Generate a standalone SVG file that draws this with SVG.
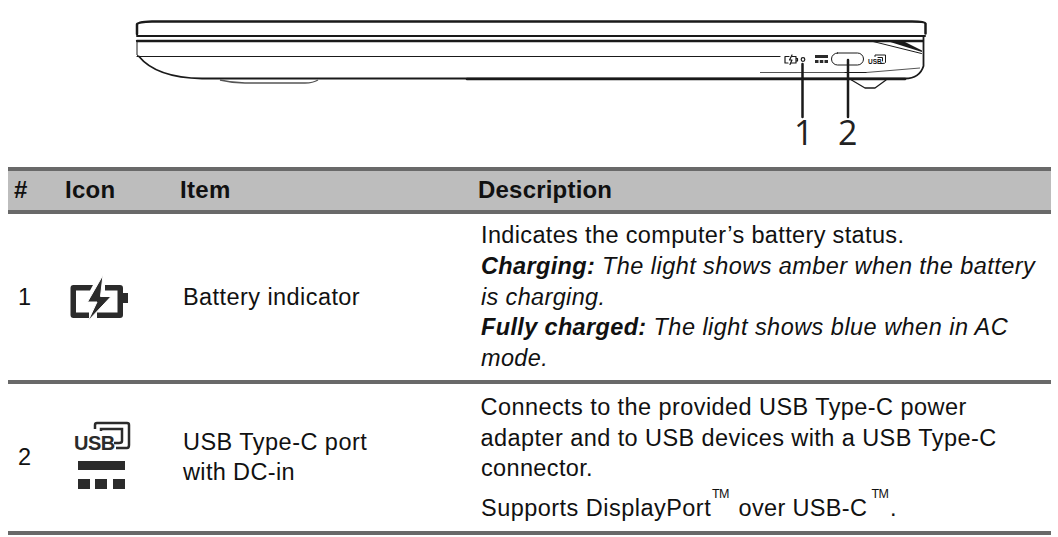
<svg xmlns="http://www.w3.org/2000/svg" width="1058" height="537" viewBox="0 0 1058 537">
<style>
text{font-family:"Liberation Sans",Arial,sans-serif;fill:#111}
.h{font-size:24px;font-weight:bold;letter-spacing:.3px}
.d{letter-spacing:.2px}
.b{font-size:23.5px;letter-spacing:.35px}
.w{letter-spacing:.43px}
.x{letter-spacing:.47px}
.i{font-style:italic}
.bi{font-style:italic;font-weight:bold}
.l{fill:none;stroke:#1a1a1a;stroke-linecap:round;stroke-linejoin:round}
.ic{fill:#2b2b2b}
.icl{fill:none;stroke:#2b2b2b}
.call{font-family:"Open Sans",sans-serif;font-size:34px;fill:#222}
.tm{font-size:12.500px;letter-spacing:-.6px}
</style>
<rect width="1058" height="537" fill="#fff"/>
<g id="laptop">
<path class="l" stroke-width="2.500" d="M152 21.500H912Q925 21.500 925.500 23.500V33.500M137 34V24.500Q137 22 152 21.500"/>
<path class="l" stroke-width="2" d="M137 36H925"/>
<path class="l" stroke-width="2.300" d="M137 41H923"/>
<path class="l" stroke-width="1" d="M137 41V55L139 56.500"/>
<path class="l" stroke-width="1.200" d="M137 56.500H780"/>
<path class="l" stroke-width="1.800" d="M139 56.500C150 70 172 78 202 78.500H905C915 78.500 921 74 923.500 66V36"/>
<path class="l" stroke-width="2.600" d="M467 79H905"/>
<path stroke="#555" fill="none" stroke-width="1.300" d="M220 80Q232 83 245 83H305Q313 83 318 80"/>
<path class="l" stroke-width="1.300" d="M851.500 80L865 88H875L886 80"/>
<path class="l" stroke-width="1" d="M873 41.500L921.500 53.500"/>
<path fill="#1a1a1a" d="M887 41H903L922 50.500V52Z"/>
<path stroke="#555" fill="none" stroke-width="1" d="M760 72.500H845M866 72.500L920 68"/>
<path class="l" stroke-width="1" d="M866 72.500H845"/>
<rect class="l" stroke-width="1" x="831.500" y="53" width="32" height="12" rx="6"/>
<g class="ic"><rect x="815" y="55" width="13" height="3"/><rect x="815" y="60" width="3.500" height="3"/><rect x="819.800" y="60" width="3.500" height="3"/><rect x="824.500" y="60" width="3.500" height="3"/></g>
<circle class="l" stroke-width="1.200" cx="803" cy="59.500" r="1.800"/>
<path class="l" stroke-width="1.200" d="M789 56.500H785V63H788M792 56.500H796V63H791M796 58.500H797.500V61H796"/>
<path class="l" stroke-width="1.200" d="M792 55L789.500 60H792L790 64.500"/>
<text x="868" y="63.500" style="font-size:6.500px;font-weight:bold">USB</text>
<path class="l" stroke-width="1" d="M875 56.500V55H885.500V62.500Q885.500 63.500 882 63.500H880M878 57.500H882.500V61"/>
</g>
<g id="connectors"><path class="l" stroke-width="2.500" d="M802.500 64V117M848 60V117"/></g>
<g id="callout-1"><text class="call" x="794" y="145">1</text></g>
<g id="callout-2"><text class="call" x="838" y="145">2</text></g>
<g id="table">
<rect x="8" y="171" width="1043" height="40" fill="#bdbdbd"/>
<rect x="8" y="167" width="1043" height="4" fill="#696969"/>
<rect x="8" y="210" width="1043" height="4" fill="#696969"/>
<rect x="8" y="380" width="1043" height="4" fill="#696969"/>
<rect x="8" y="531" width="1043" height="4" fill="#696969"/>
<text class="h" x="14" y="198">#</text><text class="h" x="65" y="198">Icon</text><text class="h" x="180" y="198">Item</text><text class="h d" x="478" y="198">Description</text>
</g>
<g id="row-1">
<text class="b" x="18" y="305">1</text>
<path class="ic" fill-rule="evenodd" d="M70.500 288Q70.500 285 73.500 285H93L90 290.500H76V312.500H89V318H73.500Q70.500 318 70.500 315ZM105 285H120Q123 285 123 288V293H128V303H123V315Q123 318 120 318H97V312.500H117.500V290.500H105Z"/>
<path class="ic" d="M103 275L87.500 302H97L88 321L111 296.500H100.500Z" stroke="#fff" stroke-width="1"/>
<text class="b w" x="183" y="305">Battery indicator</text>
<text class="b" x="481" y="243">Indicates the computer’s battery status.</text>
<text class="b" x="481" y="274"><tspan class="bi">Charging:</tspan><tspan class="i w"> The light shows amber when the battery</tspan></text>
<text class="b i" x="481" y="305">is charging.</text>
<text class="b" x="481" y="335"><tspan class="bi">Fully charged:</tspan><tspan class="i x"> The light shows blue when in AC</tspan></text>
<text class="b i" x="481" y="366">mode.</text>
</g>
<g id="row-2">
<text class="b" x="18" y="465">2</text>
<text x="74" y="450" style="font-size:20px;font-weight:bold;fill:#2b2b2b;letter-spacing:-.5px">USB</text>
<path class="icl" stroke-width="2.500" fill="none" d="M95 429V425Q95 423 97 423H127Q129 423 129 425V445Q129 448 127 448H116M101 431V429H122V441Q122 443 119 443H114"/>
<rect class="ic" x="78" y="461" width="47" height="9"/>
<rect class="ic" x="78" y="479" width="12" height="10"/><rect class="ic" x="95" y="479" width="12" height="10"/><rect class="ic" x="113" y="479" width="12" height="10"/>
<text class="b x" x="183" y="450">USB Type-C port</text>
<text class="b" x="183" y="480">with DC-in</text>
<text class="b w" x="480.500" y="415">Connects to the provided USB Type-C power</text>
<text class="b w" x="480.500" y="446">adapter and to USB devices with a USB Type-C</text>
<text class="b" x="481" y="476">connector.</text>
<text class="b x" x="481" y="516">Supports DisplayPort</text>
<text class="tm" x="712" y="498">TM</text>
<text class="b" x="738.500" y="516">over USB-C</text>
<text class="tm" x="871.500" y="498">TM</text>
<text class="b" x="890" y="516">.</text>
</g>
</svg>
